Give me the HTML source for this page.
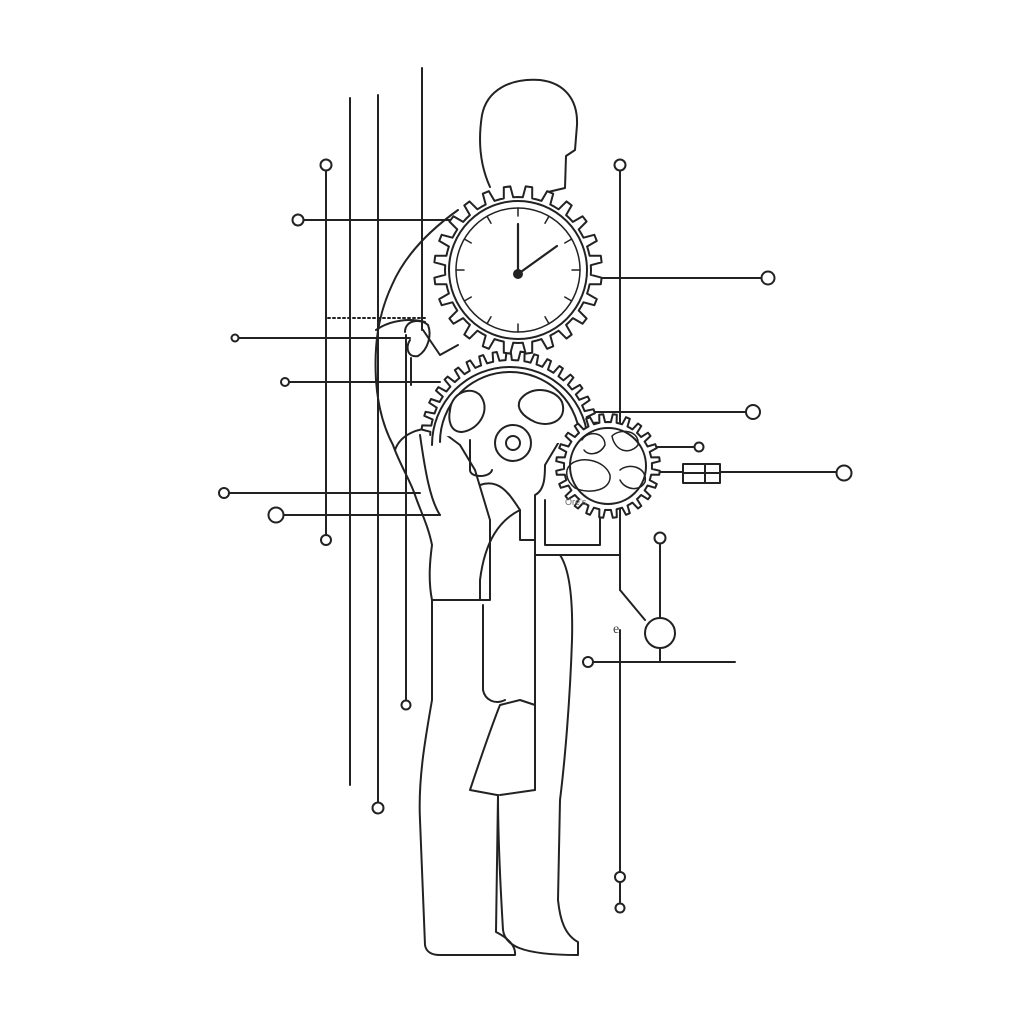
<!DOCTYPE html>
<html><head><meta charset="utf-8"><style>html,body{margin:0;padding:0;background:#fff}svg{display:block}</style></head>
<body>
<svg id="s" width="1024" height="1024" viewBox="0 0 1024 1024" xmlns="http://www.w3.org/2000/svg" fill="none" stroke="#222" stroke-width="2" stroke-linecap="round" stroke-linejoin="round">
<rect width="1024" height="1024" fill="#fff" stroke="none"/>
<line x1="350" y1="98" x2="350" y2="785"/>
<line x1="378" y1="95" x2="378" y2="802"/>
<circle cx="378" cy="808" r="5.5" fill="#fff"/>
<line x1="422" y1="68" x2="422" y2="330"/>
<line x1="326" y1="171" x2="326" y2="534"/>
<circle cx="326" cy="165" r="5.5" fill="#fff"/>
<circle cx="326" cy="540" r="5" fill="#fff"/>
<line x1="406" y1="335" x2="406" y2="700"/>
<circle cx="406" cy="705" r="4.5" fill="#fff"/>
<line x1="620" y1="171" x2="620" y2="590"/>
<circle cx="620" cy="165" r="5.5" fill="#fff"/>
<path d="M620 590 L645 620"/>
<line x1="620" y1="630" x2="620" y2="902"/>
<circle cx="620" cy="877" r="5" fill="#fff"/>
<circle cx="620" cy="908" r="4.5" fill="#fff"/>
<line x1="304" y1="220" x2="450" y2="220"/><circle cx="298" cy="220" r="5.5" fill="#fff"/>
<line x1="238" y1="338" x2="410" y2="338"/><circle cx="235" cy="338" r="3.5" fill="#fff"/>
<line x1="289" y1="382" x2="440" y2="382"/><circle cx="285" cy="382" r="4" fill="#fff"/>
<line x1="229" y1="493" x2="420" y2="493"/><circle cx="224" cy="493" r="5" fill="#fff"/>
<line x1="284" y1="515" x2="440" y2="515"/><circle cx="276" cy="515" r="7.5" fill="#fff"/>
<line x1="600" y1="278" x2="762" y2="278"/><circle cx="768" cy="278" r="6.5" fill="#fff"/>
<line x1="595" y1="412" x2="746" y2="412"/><circle cx="753" cy="412" r="7" fill="#fff"/>
<line x1="620" y1="447" x2="694" y2="447"/><circle cx="699" cy="447" r="4.5" fill="#fff"/>
<line x1="640" y1="472" x2="837" y2="472"/><circle cx="844" cy="473" r="7.5" fill="#fff"/>
<rect x="683" y="464" width="37" height="19" fill="#fff"/><line x1="705" y1="464" x2="705" y2="483"/><line x1="683" y1="473" x2="720" y2="473"/>
<line x1="593" y1="662" x2="735" y2="662"/><circle cx="588" cy="662" r="5" fill="#fff"/>
<line x1="660" y1="544" x2="660" y2="618"/><line x1="660" y1="647" x2="660" y2="662"/>
<circle cx="660" cy="538" r="5.5" fill="#fff"/>
<circle cx="660" cy="633" r="15" fill="#fff"/>
<line x1="328" y1="318" x2="425" y2="318" stroke-dasharray="2 3"/>
<path d="M490 187 C480 165 478 140 482 115 C487 90 510 78 540 80 C565 83 578 100 577 125 L575 150 L566 156 L565 188 L548 192"/>
<path d="M458 210 C430 230 405 255 392 285 C378 315 374 345 376 380 C378 410 385 430 393 445 C400 465 410 480 415 495 C420 510 428 525 432 545 C430 560 428 580 432 600 L432 700 C425 740 418 780 420 820 L425 945 C426 952 432 955 440 955 L515 955 C516 946 508 938 496 932 L498 795"/>
<path d="M432 600 L490 600 L490 520 L475 470 L460 445 L440 430 C420 425 400 435 395 450"/>
<path d="M497 795 L470 790 C480 760 490 730 500 705 L520 700 L535 705 L535 790 L500 795"/>
<path d="M498 795 C498 840 500 880 503 930 C505 945 520 955 578 955 L578 942 C565 935 560 920 558 900 L560 800 C565 760 570 700 572 640 C573 600 570 570 560 555 L535 555 L535 790"/>
<path d="M483 605 L483 690 C485 700 495 705 505 700"/>
<path d="M535 555 L535 495 C545 490 545 475 545 465 L560 440"/>
<path d="M545 555 L620 555"/>
<path d="M545 500 L545 545 L600 545 L600 505"/>
<path d="M480 485 C500 478 510 495 520 510 C500 520 485 540 480 580 L480 600"/>
<path d="M520 510 L520 540 L535 540"/>
<path d="M420 435 C425 470 430 500 440 515"/>
<path d="M410 340 C405 348 408 358 418 356 C428 350 432 335 428 325 C420 318 405 320 405 332"/>
<path d="M411 358 L411 385"/>
<path d="M376 330 C390 320 410 318 425 322"/>
<path d="M423 330 L440 355 L458 345"/>
<g id="gears"></g>
<circle cx="518" cy="270" r="69" fill="#fff" stroke-width="2"/>
<circle cx="518" cy="270" r="62" stroke-width="1.5"/>
<g id="ticks" stroke-width="1.5"></g>
<line x1="518" y1="274" x2="518" y2="224" stroke-width="2.2"/>
<line x1="518" y1="274" x2="557" y2="246" stroke-width="2.2"/>
<circle cx="518" cy="274" r="4" fill="#222"/>
<path d="M450 410 C452 390 475 385 482 398 C490 412 478 430 462 432 C450 432 448 420 450 410Z" fill="#fff"/>
<path d="M520 400 C530 385 555 388 562 402 C568 420 550 428 535 422 C522 416 516 408 520 400Z" fill="#fff"/>
<circle cx="513" cy="443" r="18" fill="#fff"/><circle cx="513" cy="443" r="7"/>
<path d="M470 440 L470 470 C470 478 490 478 492 470"/>
<path d="M582 440 C588 430 605 432 605 445 C600 455 588 456 584 450" stroke-width="1.5"/>
<path d="M612 436 C620 428 640 430 638 445 C630 455 615 452 612 436" stroke-width="1.5"/>
<path d="M570 465 C580 455 605 460 610 475 C612 490 590 495 575 488 C565 480 565 470 570 465" stroke-width="1.5"/>
<path d="M620 470 C630 462 648 468 645 482 C640 492 625 490 620 480" stroke-width="1.5"/>
<text x="565" y="505" font-family="Liberation Sans, sans-serif" font-size="9" fill="#666" stroke="none">Ore's</text>
<text x="613" y="633" font-family="Liberation Serif, serif" font-size="14" fill="#444" stroke="none">e</text>
</svg>
<script>
function gear(cx,cy,r,n,h,start,end){
 let d='',first=true;
 const step=(end-start)/n;
 for(let i=0;i<n;i++){
  const a0=start+i*step;
  const pts=[[a0,r],[a0+step*0.25,r],[a0+step*0.35,r+h],[a0+step*0.65,r+h],[a0+step*0.75,r],[a0+step,r]];
  for(const [a,rr] of pts){
   const x=(cx+rr*Math.cos(a)).toFixed(1),y=(cy+rr*Math.sin(a)).toFixed(1);
   d+=(first?'M':'L')+x+' '+y+' ';first=false;
  }
 }
 return d;
}
const g=document.getElementById('gears');
const P=Math.PI;
function add(d,fill){const p=document.createElementNS('http://www.w3.org/2000/svg','path');p.setAttribute('d',d);p.setAttribute('fill',fill||'none');g.appendChild(p);}
add(gear(510,440,80,20,9,P*1.02,P*2.02),"#fff");
const c1=document.createElementNS('http://www.w3.org/2000/svg','path');
c1.setAttribute('d','M432 445 A78 78 0 0 1 588 445');g.appendChild(c1);
const c1b=document.createElementNS('http://www.w3.org/2000/svg','path');
c1b.setAttribute('d','M440 442 A70 70 0 0 1 580 442');g.appendChild(c1b);
add(gear(608,466,44,24,8,0,2*P)+'Z',"#fff");
const c2=document.createElementNS('http://www.w3.org/2000/svg','circle');
c2.setAttribute('cx',608);c2.setAttribute('cy',466);c2.setAttribute('r',38);g.appendChild(c2);
add(gear(518,270,73,24,11,0,2*P)+'Z',"#fff");
const t=document.getElementById('ticks');
for(let i=0;i<12;i++){const a=i*P/6;const x1=518+62*Math.cos(a),y1=270+62*Math.sin(a),x2=518+54*Math.cos(a),y2=270+54*Math.sin(a);
 const l=document.createElementNS('http://www.w3.org/2000/svg','line');l.setAttribute('x1',x1);l.setAttribute('y1',y1);l.setAttribute('x2',x2);l.setAttribute('y2',y2);t.appendChild(l);}
</script>
</body></html>
